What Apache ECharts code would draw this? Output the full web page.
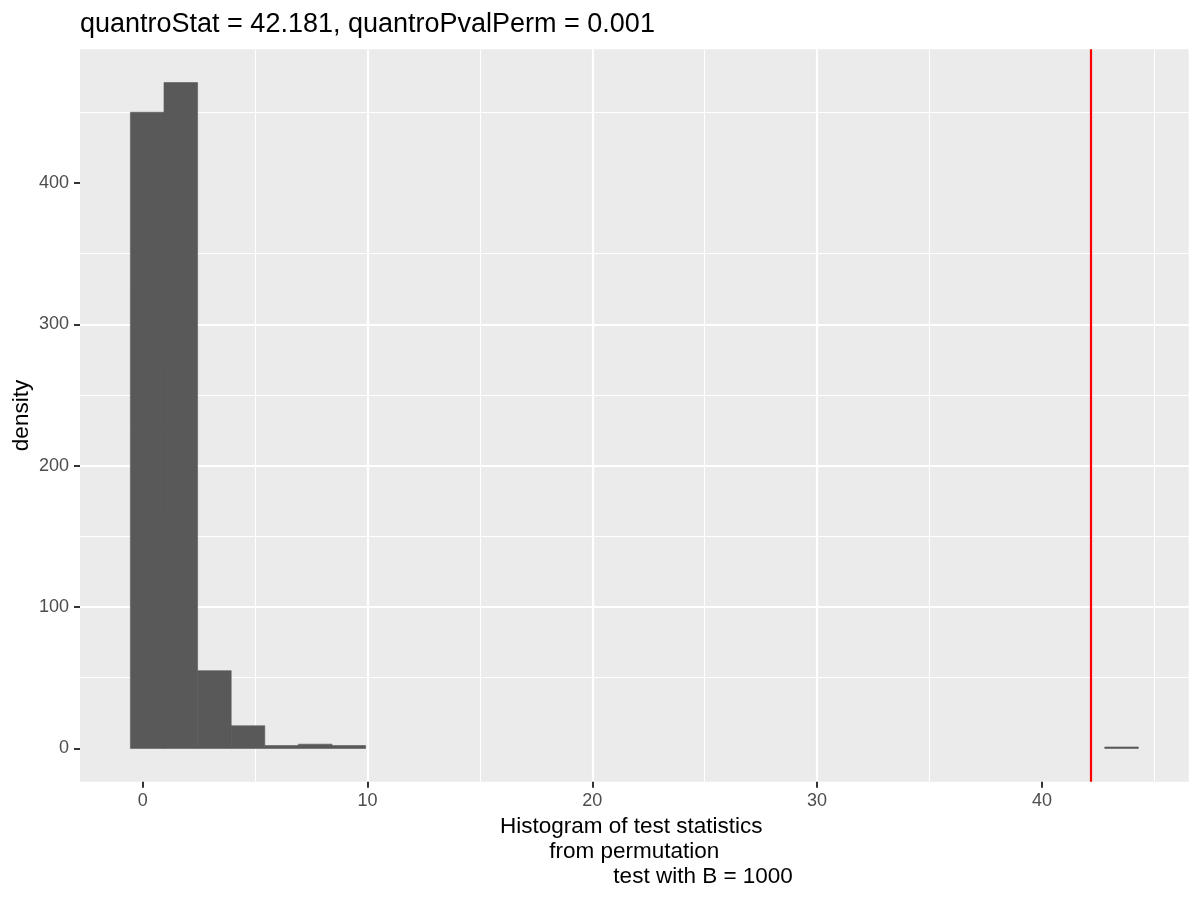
<!DOCTYPE html>
<html>
<head>
<meta charset="utf-8">
<script src="https://cdn.jsdelivr.net/npm/echarts@6/dist/echarts.min.js"></script>
<style>html,body{margin:0;padding:0;background:#fff}#c{width:1200px;height:900px}</style>
</head>
<body>
<div id="c"></div>
<script>
// ---- data ----
const titleText = 'quantroStat = 42.181, quantroPvalPerm = 0.001';
const xTitle = 'Histogram of test statistics \n from permutation \n                      test with B = 1000';
const yTitle = 'density';
const binStart = -0.548;
const binWidth = 1.4946;
const counts = [450, 471, 55, 16, 2, 3, 2, 0, 0, 0,
                0, 0, 0, 0, 0, 0, 0, 0, 0, 0,
                0, 0, 0, 0, 0, 0, 0, 0, 0, 1];
const observedStat = 42.181;
const xTicks = [0, 10, 20, 30, 40];
const yTicks = [0, 100, 200, 300, 400];
const xRange = [-2.79, 46.53];
const yRange = [-23.55, 494.55];

const bins = counts.map((c, i) => [binStart + i * binWidth, binStart + (i + 1) * binWidth, c]);

const font = 'Liberation Sans, Arial, Helvetica, sans-serif';
const chart = echarts.init(document.getElementById('c'), null, {renderer: 'canvas'});
chart.setOption({
  animation: false,
  backgroundColor: '#FFFFFF',
  title: {
    text: titleText, left: 80, top: 11, padding: 0,
    textStyle: {fontFamily: font, fontSize: 27, fontWeight: 'normal', color: '#000000'}
  },
  grid: {
    left: 80, right: 11.3, top: 49.3, bottom: 118.3,
    show: true, backgroundColor: '#EBEBEB', borderWidth: 0,
    containLabel: false, outerBoundsMode: 'none'
  },
  xAxis: {
    type: 'value', min: xRange[0], max: xRange[1], splitNumber: 5,
    name: xTitle, nameLocation: 'middle', nameGap: 30,
    nameTextStyle: {fontFamily: font, fontSize: 22.5, color: '#000000', lineHeight: 25, align: 'center'},
    axisLine: {show: false, onZero: false},
    axisTick: {show: true, customValues: xTicks, length: 6, lineStyle: {color: '#333333', width: 2}},
    axisLabel: {customValues: xTicks, margin: 10, fontFamily: font, fontSize: 18, color: '#4D4D4D'},
    splitLine: {show: true, showMinLine: false, showMaxLine: false, lineStyle: {color: '#FFFFFF', width: 2.2}},
    minorTick: {show: false, splitNumber: 2},
    minorSplitLine: {show: true, lineStyle: {color: '#FFFFFF', width: 1.1}}
  },
  yAxis: {
    type: 'value', min: yRange[0], max: yRange[1], splitNumber: 5,
    name: yTitle, nameLocation: 'middle', nameGap: 47, nameRotate: 90, nameMoveOverlap: false,
    nameTextStyle: {fontFamily: font, fontSize: 22.5, color: '#000000'},
    axisLine: {show: false, onZero: false},
    axisTick: {show: true, customValues: yTicks, length: 6, lineStyle: {color: '#333333', width: 2}},
    axisLabel: {customValues: yTicks, margin: 11, fontFamily: font, fontSize: 18, color: '#4D4D4D'},
    splitLine: {show: true, showMinLine: false, showMaxLine: false, lineStyle: {color: '#FFFFFF', width: 2.2}},
    minorTick: {show: false, splitNumber: 2},
    minorSplitLine: {show: true, lineStyle: {color: '#FFFFFF', width: 1.1}}
  },
  series: [{
    type: 'custom',
    data: bins,
    encode: {x: [0, 1], y: 2},
    clip: true,
    renderItem: function (params, api) {
      const c = api.value(2);
      if (!c) return null;
      const p0 = api.coord([api.value(0), 0]);
      const p1 = api.coord([api.value(1), c]);
      return {
        type: 'rect',
        shape: {x: p0[0], y: p1[1], width: p1[0] - p0[0], height: p0[1] - p1[1]},
        style: {fill: '#595959', stroke: '#595959', lineWidth: 0.6}
      };
    },
    markLine: {
      silent: true, symbol: ['none', 'none'], label: {show: false},
      lineStyle: {color: '#FF0000', width: 2.2, type: 'solid'},
      data: [{xAxis: observedStat}]
    }
  }]
});
</script>
</body>
</html>
